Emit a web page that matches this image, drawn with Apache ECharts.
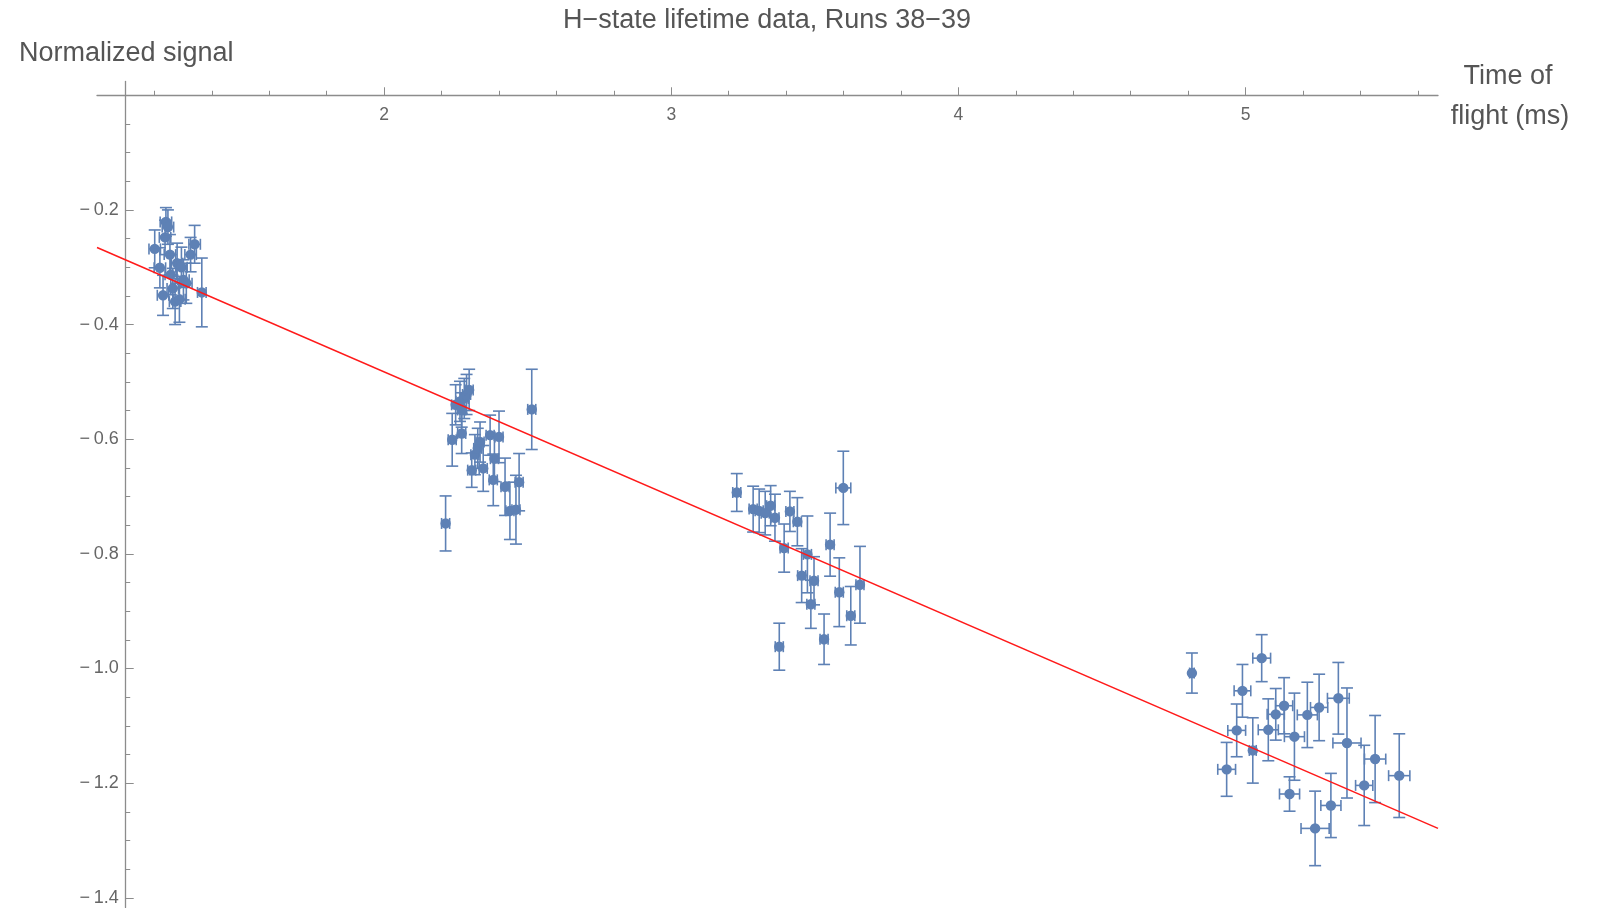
<!DOCTYPE html>
<html><head><meta charset="utf-8">
<script src="https://cdn.jsdelivr.net/npm/echarts@6/dist/echarts.min.js"></script>
<style>html,body{margin:0;padding:0;background:#fff}#c{width:1598px;height:908px}</style>
</head><body><div id="c"></div>
<script>
// ---- data ----
const tof = [
  1.201,1.219,1.230,1.237,1.240,1.247,1.254,1.257,1.264,1.272,1.279,1.287,1.294,1.301,1.311,1.326,1.340,1.365,
  2.214,2.237,2.270,2.249,2.264,2.279,2.287,2.296,2.270,2.305,2.316,2.326,2.334,2.345,2.369,2.384,2.380,2.400,2.421,2.438,2.459,2.470,2.514,
  3.228,3.285,3.306,3.327,3.346,3.361,3.413,3.439,3.393,3.474,3.454,3.497,3.486,3.376,3.532,3.553,3.599,3.585,3.625,3.657,
  4.813,5.056,4.989,4.969,4.934,5.025,5.079,5.105,5.134,5.170,5.153,5.215,5.256,5.323,5.353,5.297,5.242,5.413,5.451,5.535
];
const signal = [
  -0.268,-0.301,-0.349,-0.248,-0.221,-0.230,-0.278,-0.313,-0.337,-0.360,-0.293,-0.356,-0.300,-0.322,-0.328,-0.278,-0.260,-0.344,
  -0.747,-0.601,-0.590,-0.540,-0.534,-0.529,-0.522,-0.514,-0.549,-0.654,-0.627,-0.616,-0.605,-0.651,-0.593,-0.634,-0.671,-0.596,-0.683,-0.725,-0.723,-0.675,-0.548,
  -0.693,-0.722,-0.725,-0.729,-0.716,-0.737,-0.726,-0.744,-0.790,-0.801,-0.838,-0.847,-0.888,-0.962,-0.949,-0.784,-0.685,-0.867,-0.908,-0.854,
  -1.008,-0.982,-1.039,-1.108,-1.176,-1.143,-1.107,-1.080,-1.065,-1.119,-1.219,-1.081,-1.068,-1.052,-1.130,-1.239,-1.279,-1.204,-1.158,-1.187
];
const tofErr = [
  0.02,0.02,0.02,0.02,0.02,0.02,0.02,0.02,0.02,0.02,0.02,0.02,0.02,0.02,0.02,0.02,0.02,0.015,
  0.014,0.014,0.014,0.014,0.014,0.014,0.014,0.014,0.014,0.014,0.014,0.014,0.014,0.014,0.014,0.014,0.014,0.014,0.014,0.014,0.014,0.014,0.014,
  0.014,0.014,0.014,0.014,0.014,0.014,0.014,0.014,0.014,0.014,0.014,0.014,0.014,0.014,0.014,0.014,0.026,0.014,0.014,0.014,
  0.008,0.031,0.029,0.031,0.031,0.012,0.035,0.030,0.030,0.035,0.035,0.035,0.030,0.038,0.049,0.035,0.049,0.030,0.037,0.037
];
const signalErr = [
  0.033,0.035,0.035,0.030,0.025,0.030,0.035,0.035,0.035,0.040,0.035,0.040,0.035,0.035,0.035,0.030,0.033,0.060,
  0.048,0.046,0.035,0.035,0.035,0.035,0.035,0.036,0.030,0.030,0.035,0.035,0.035,0.040,0.035,0.040,0.045,0.045,0.050,0.050,0.060,0.050,0.070,
  0.033,0.040,0.038,0.038,0.035,0.041,0.035,0.042,0.042,0.067,0.047,0.042,0.042,0.041,0.044,0.055,0.064,0.060,0.051,0.067,
  0.035,0.041,0.046,0.046,0.047,0.057,0.054,0.045,0.049,0.076,0.030,0.057,0.058,0.0625,0.096,0.056,0.065,0.070,0.076,0.073
];
const fitTof = [1.0, 5.67];
const fitSignal = [-0.2657, -1.279];
const xTicks = [2, 3, 4, 5];
const xMinorTicks = [1.2,1.4,1.6,1.8,2.2,2.4,2.6,2.8,3.2,3.4,3.6,3.8,4.2,4.4,4.6,4.8,5.2,5.4,5.6];
const yTicks = [-1.4,-1.2,-1.0,-0.8,-0.6,-0.4,-0.2];
const yMinorTicks = [-1.35,-1.3,-1.25,-1.15,-1.1,-1.05,-0.95,-0.9,-0.85,-0.75,-0.7,-0.65,-0.55,-0.5,-0.45,-0.35,-0.3,-0.25,-0.15,-0.1,-0.05];

// ---- layout ----
const X_MIN = 1.0, X_MAX = 5.67, Y_MIN = -1.417, Y_MAX = 0.024, X_ORIGIN = 1.1, Y_ORIGIN = 0;
const GRID = {left: 97, right: 160, top: 81.5, bottom: 0.5};
const gridW = 1598 - GRID.left - GRID.right;
const gridH = 908 - GRID.top - GRID.bottom;
const yOffset = -(X_ORIGIN - X_MIN) / (X_MAX - X_MIN) * gridW;
const xOffset = -(Y_ORIGIN - Y_MIN) / (Y_MAX - Y_MIN) * gridH;
const BLUE = '#5E81B5';
const AX = '#8c8c8c';
const FONT = 'Liberation Sans, Arial, sans-serif';

const chart = echarts.init(document.getElementById('c'));
const pts = tof.map((x, i) => [x, signal[i], tofErr[i], signalErr[i]]);

function xAxisDef(major) {
  return {
    type: 'value', min: X_MIN, max: X_MAX, position: 'bottom', offset: xOffset,
    axisLine: {show: major, onZero: false, lineStyle: {color: AX, width: 1.3}},
    axisTick: {show: true, inside: true, length: major ? 8 : 4.5, customValues: major ? xTicks : xMinorTicks, lineStyle: {color: AX, width: 1}},
    axisLabel: {show: major, customValues: xTicks, margin: 11, color: '#666', fontSize: 17.5, fontFamily: FONT},
    splitLine: {show: false}
  };
}
function yAxisDef(major) {
  return {
    type: 'value', min: Y_MIN, max: Y_MAX, position: 'left', offset: yOffset,
    axisLine: {show: major, onZero: false, lineStyle: {color: AX, width: 1.3}},
    axisTick: {show: true, inside: true, length: major ? 8 : 4.5, customValues: major ? yTicks : yMinorTicks, lineStyle: {color: AX, width: 1}},
    axisLabel: {show: major, customValues: yTicks, margin: 7, color: '#666', fontSize: 18, fontFamily: FONT,
      formatter: v => (v < 0 ? '\u2212\u2009' : '') + Math.abs(v).toFixed(1)},
    splitLine: {show: false}
  };
}

chart.setOption({
  animation: false,
  backgroundColor: '#fff',
  grid: Object.assign({containLabel: false, outerBoundsMode: 'none'}, GRID),
  xAxis: [xAxisDef(true), xAxisDef(false)],
  yAxis: [yAxisDef(true), yAxisDef(false)],
  graphic: [
    {type: 'text', x: 767, y: 21, style: {text: 'H\u2212state lifetime data, Runs 38\u221239', align: 'center', verticalAlign: 'middle', fill: '#555', font: '27px ' + FONT}},
    {type: 'text', x: 19, y: 54, style: {text: 'Normalized signal', align: 'left', verticalAlign: 'middle', fill: '#555', font: '27px ' + FONT}},
    {type: 'text', x: 1508, y: 77, style: {text: 'Time of', align: 'center', verticalAlign: 'middle', fill: '#555', font: '27px ' + FONT}},
    {type: 'text', x: 1510, y: 117, style: {text: 'flight (ms)', align: 'center', verticalAlign: 'middle', fill: '#555', font: '27px ' + FONT}}
  ],
  series: [
    {
      type: 'custom', xAxisIndex: 0, yAxisIndex: 0, z: 2,
      data: pts,
      encode: {x: 0, y: 1},
      renderItem: function (params, api) {
        const x = api.value(0), y = api.value(1), ex = api.value(2), ey = api.value(3);
        const c = api.coord([x, y]);
        const t = api.coord([x, y + ey])[1], b = api.coord([x, y - ey])[1];
        const l = api.coord([x - ex, y])[0], r = api.coord([x + ex, y])[0];
        const cap = 6, capV = 5.5;
        const st = {stroke: BLUE, lineWidth: 1.6};
        const ln = (x1, y1, x2, y2) => ({type: 'line', shape: {x1, y1, x2, y2}, style: st});
        return {type: 'group', children: [
          ln(c[0], t, c[0], b),
          ln(c[0] - cap, t, c[0] + cap, t),
          ln(c[0] - cap, b, c[0] + cap, b),
          ln(l, c[1], r, c[1]),
          ln(l, c[1] - capV, l, c[1] + capV),
          ln(r, c[1] - capV, r, c[1] + capV),
          {type: 'circle', shape: {cx: c[0], cy: c[1], r: 5.2}, style: {fill: BLUE}}
        ]};
      }
    },
    {
      type: 'line', xAxisIndex: 0, yAxisIndex: 0, z: 3,
      data: fitTof.map((x, i) => [x, fitSignal[i]]),
      symbol: 'none', lineStyle: {color: '#ff1a1a', width: 1.5}
    }
  ]
});
</script></body></html>
